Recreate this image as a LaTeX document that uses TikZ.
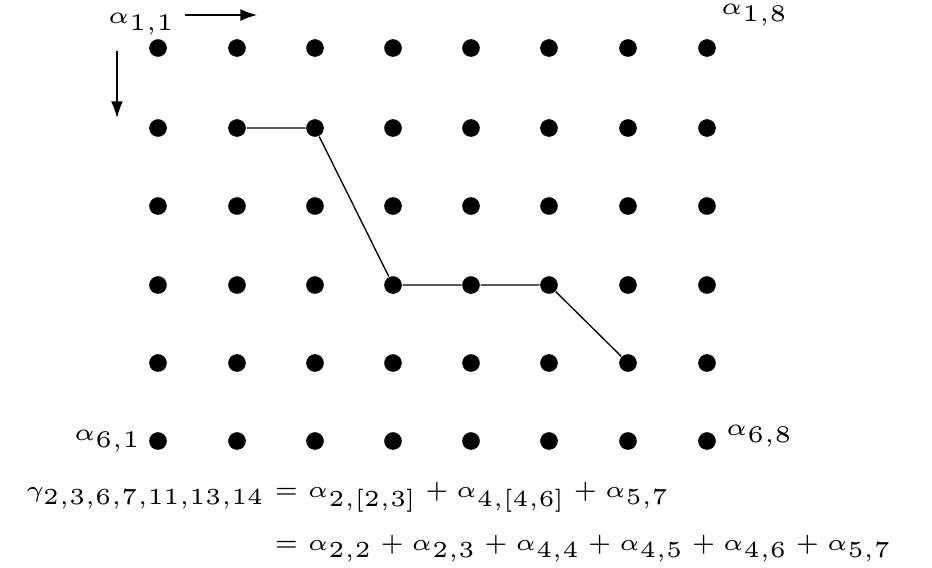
\documentclass[tikz,border=0pt]{standalone}
\usepackage{amsmath}
\usetikzlibrary{arrows.meta}
\begin{document}
\begin{tikzpicture}[x=0.3pt,y=-0.3pt,
  dot/.style={circle,fill=black,inner sep=0pt,minimum size=5.3pt},
  lbl/.style={inner sep=0pt,scale=1.43,font=\fontsize{5}{6}\selectfont},
  eqs/.style={inner sep=0pt,scale=1.38,font=\fontsize{5}{6}\selectfont},
  arr/.style={-{Latex[length=5pt,width=3.6pt]},line width=0.45pt},
  pathline/.style={line width=0.4pt}]
\useasboundingbox (0,0) rectangle (932,567);
\foreach \r/\y in {1/48,2/128,3/206,4/285,5/363,6/441}{
  \foreach \c/\x in {1/158,2/237,3/315,4/393,5/471,6/549,7/628,8/707}{
    \node[dot] (d\r\c) at (\x,\y) {};
  }
}
\draw[pathline] (d22) -- (d23) -- (d44) -- (d45) -- (d46) -- (d57);
\node[lbl,anchor=west] (a11) at (107,24) {$\alpha_{1,1}$};
\node[lbl,anchor=west] (a18) at (720,15) {$\alpha_{1,8}$};
\node[lbl,anchor=west] (a61) at (73,441) {$\alpha_{6,1}$};
\node[lbl,anchor=west] (a68) at (725,436) {$\alpha_{6,8}$};
\coordinate (r1) at (185,15);
\coordinate (r2) at (257,15);
\coordinate (c1) at (117,51);
\coordinate (c2) at (117,118);
\draw[arr] (r1) -- (r2);
\draw[arr] (c1) -- (c2);
\node[eqs,anchor=west] (eq) at (25,520) {$\begin{aligned}
\gamma_{2,3,6,7,11,13,14} &= \alpha_{2,[2,3]}+\alpha_{4,[4,6]}+\alpha_{5,7}\\
&= \alpha_{2,2}+\alpha_{2,3}+\alpha_{4,4}+\alpha_{4,5}+\alpha_{4,6}+\alpha_{5,7}
\end{aligned}$};
\end{tikzpicture}
\end{document}
